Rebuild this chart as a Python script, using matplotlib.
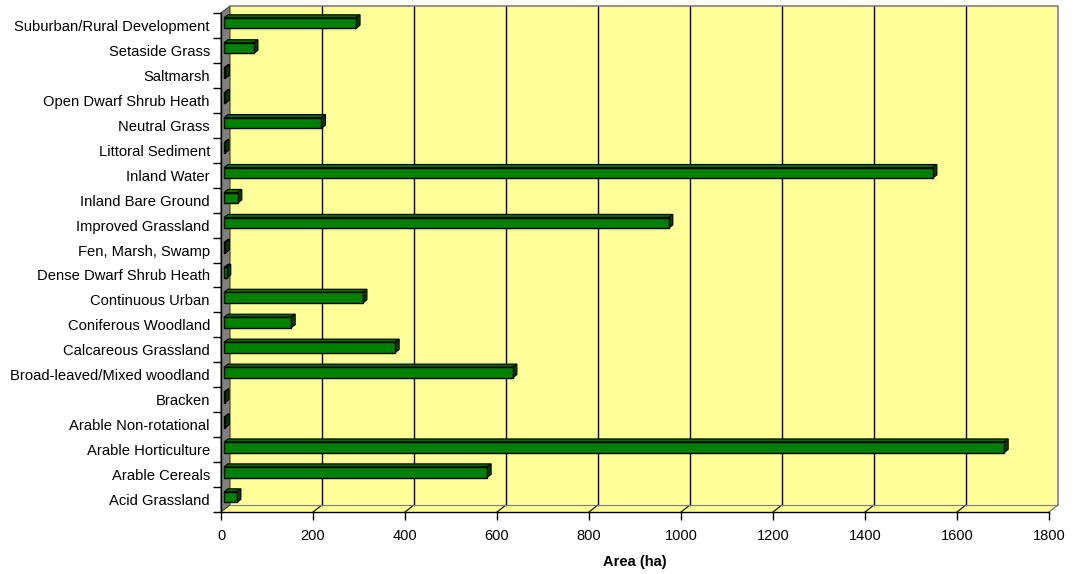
import numpy as np
import matplotlib
matplotlib.use('Agg')
from matplotlib import pyplot as plt
from matplotlib.patches import Polygon, Rectangle
from matplotlib.ticker import FixedLocator

plt.rcParams['font.family'] = ['Liberation Sans', 'DejaVu Sans']

# Land cover classes, bottom to top
categories = ['Acid Grassland', 'Arable Cereals', 'Arable Horticulture',
              'Arable Non-rotational', 'Bracken', 'Broad-leaved/Mixed woodland',
              'Calcareous Grassland', 'Coniferous Woodland', 'Continuous Urban',
              'Dense Dwarf Shrub Heath', 'Fen, Marsh, Swamp', 'Improved Grassland',
              'Inland Bare Ground', 'Inland Water', 'Littoral Sediment',
              'Neutral Grass', 'Open Dwarf Shrub Heath', 'Saltmarsh',
              'Setaside Grass', 'Suburban/Rural Development']
area_ha = [28, 572, 1696, 3, 2, 628, 372, 146, 302, 6, 3, 967, 30, 1541, 2,
           212, 3, 3, 65, 287]
x_ticks = [0, 200, 400, 600, 800, 1000, 1200, 1400, 1600, 1800]

# Colours
wall_yellow = '#FFFF99'
side_grey = '#808080'
bar_front = '#008000'
bar_top = '#006600'
bar_side = '#004400'

W, H, DPI = 1074, 574, 100
fig = plt.figure(figsize=(W / DPI, H / DPI), dpi=DPI)
fig.patch.set_facecolor('white')

# front plane of the 3d box, in pixels
left_px, right_px, top_px, bottom_px = 221, 1049, 13, 512
ax = fig.add_axes([left_px / W, (H - bottom_px) / H,
                   (right_px - left_px) / W, (bottom_px - top_px) / H])
xmax, n = 1800, len(categories)
ax.set_xlim(0, xmax)
ax.set_ylim(0, n)
ax.patch.set_visible(False)

# pixel -> data units, so the depth offset is a fixed number of pixels
ux = xmax / (right_px - left_px)
uy = n / (bottom_px - top_px)
dx, dy = 9 * ux, 7 * uy

# back wall, side wall and floor
ax.add_patch(Rectangle((dx, dy), xmax, n, facecolor=wall_yellow,
                       edgecolor='none', zorder=0, clip_on=False))
ax.add_patch(Polygon([(0, 0), (dx, dy), (dx, n + dy), (0, n)], closed=True,
                     facecolor=side_grey, edgecolor='#404040', lw=0.8,
                     zorder=1, clip_on=False))
ax.add_patch(Polygon([(0, 0), (xmax, 0), (xmax + dx, dy), (dx, dy)],
                     closed=True, facecolor=wall_yellow, edgecolor='none',
                     zorder=0, clip_on=False))

# gridlines on the back wall, carried across the floor
for xt in x_ticks[1:-1]:
    ax.plot([xt + dx, xt + dx], [dy, n + dy], color='black', lw=1,
            zorder=1, clip_on=False)
    ax.plot([xt, xt + dx], [0, dy], color='black', lw=0.8, zorder=1,
            clip_on=False)
# outline of wall and floor
ax.plot([dx, xmax + dx, xmax + dx], [n + dy, n + dy, dy], color=side_grey,
        lw=1.2, zorder=1, clip_on=False)
ax.plot([dx, xmax + dx], [dy, dy], color=side_grey, lw=0.8, zorder=1,
        clip_on=False)
ax.plot([xmax, xmax + dx], [0, dy], color=side_grey, lw=1, zorder=1,
        clip_on=False)

# 3d bars: front face, top face and end face
t_front, t_back = 0.33, 0.78
fx, fy = t_front * dx, t_front * dy
bx, by = t_back * dx, t_back * dy
bar_h = 0.42
for i, v in enumerate(area_ha):
    yb = i + 0.5 - bar_h / 2
    yt = yb + bar_h
    top = [(fx, yt + fy), (fx + v, yt + fy), (bx + v, yt + by), (bx, yt + by)]
    end = [(fx + v, yb + fy), (bx + v, yb + by), (bx + v, yt + by),
           (fx + v, yt + fy)]
    ax.add_patch(Polygon(top, closed=True, facecolor=bar_top,
                         edgecolor='black', lw=0.8, zorder=3, clip_on=False))
    ax.add_patch(Polygon(end, closed=True, facecolor=bar_side,
                         edgecolor='black', lw=0.8, zorder=3, clip_on=False))
    ax.add_patch(Rectangle((fx, yb + fy), v, bar_h, facecolor=bar_front,
                           edgecolor='black', lw=1.0, zorder=4,
                           clip_on=False))

# axes lines and ticks
for side in ['top', 'right']:
    ax.spines[side].set_visible(False)
for side in ['left', 'bottom']:
    ax.spines[side].set_color('black')
    ax.spines[side].set_linewidth(1)
    ax.spines[side].set_zorder(5)

ax.set_xticks(x_ticks)
ax.set_xticklabels([str(t) for t in x_ticks])
ax.tick_params(axis='x', direction='out', length=6, width=1, color='black',
               pad=6, labelsize=10.5)

ax.set_yticks(np.arange(n) + 0.5)
ax.set_yticklabels(categories)
ax.yaxis.set_minor_locator(FixedLocator(np.arange(n + 1)))
ax.tick_params(axis='y', which='major', length=0, pad=8, labelsize=10.6)
ax.tick_params(axis='y', which='minor', direction='out', length=6, width=1,
               color='black')

ax.set_xlabel('Area (ha)', fontsize=10.5, fontweight='bold', labelpad=9)

fig.savefig('out.png', dpi=DPI)
